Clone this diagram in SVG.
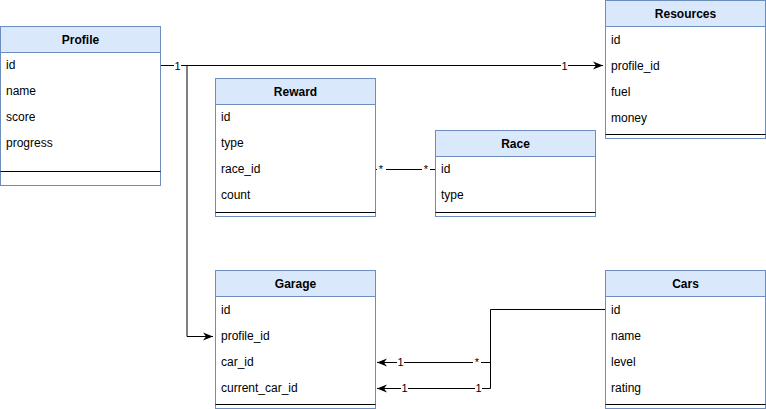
<svg xmlns="http://www.w3.org/2000/svg" width="766" height="409" viewBox="0 0 766 409">
<style>
.box{fill:#ffffff;stroke:#6c8ebf;stroke-width:1}
.hdr{fill:#dae8fc;stroke:#6c8ebf;stroke-width:1}
.sep{stroke:#000000;stroke-width:1}
.title{font-family:"Liberation Sans",Arial,sans-serif;font-size:12px;font-weight:bold;fill:#000;text-anchor:middle}
.row{font-family:"Liberation Sans",Arial,sans-serif;font-size:12px;fill:#000}
.edge{fill:none;stroke:#000;stroke-width:1}
.lbl{font-family:"Liberation Sans",Arial,sans-serif;font-size:11px;fill:#000;text-anchor:middle}
.lblbg{fill:#ffffff}
</style>
<defs>
<marker id="arr" viewBox="0 0 10 10" refX="10" refY="5" markerWidth="10" markerHeight="10" markerUnits="userSpaceOnUse" orient="auto">
<path d="M0,1 L10,5 L0,9 L3,5 Z" fill="#000"/>
</marker>
</defs>

<g id="connectors">
<path class="edge" d="M160,65.5 L603,65.5" marker-end="url(#arr)"/>
<path class="edge" d="M187,65.5 L187,336.5 L213,336.5" marker-end="url(#arr)"/>
<path d="M187,66 L187,336" fill="none" stroke="#808080" stroke-width="2"/>
<path class="edge" d="M375,169.5 L435,169.5"/>
<path class="edge" d="M605,309.5 L490.5,309.5 L490.5,388.5 L377,388.5" marker-end="url(#arr)"/>
<path class="edge" d="M490.5,362.5 L377,362.5" marker-end="url(#arr)"/>
<rect class="lblbg" x="174" y="60" width="7" height="11"/>
<text class="lbl" x="177.5" y="70">1</text>
<rect class="lblbg" x="561" y="60" width="7" height="11"/>
<text class="lbl" x="564.5" y="70">1</text>
<rect class="lblbg" x="377" y="164" width="9" height="11"/>
<text class="lbl" x="381" y="173">*</text>
<rect class="lblbg" x="422" y="164" width="8" height="11"/>
<text class="lbl" x="426" y="173">*</text>
<rect class="lblbg" x="397" y="357" width="7" height="11"/>
<text class="lbl" x="400.5" y="366">1</text>
<rect class="lblbg" x="473" y="357" width="8" height="11"/>
<text class="lbl" x="477" y="366">*</text>
<rect class="lblbg" x="401" y="383" width="7" height="11"/>
<text class="lbl" x="404.5" y="392">1</text>
<rect class="lblbg" x="475" y="383" width="7" height="11"/>
<text class="lbl" x="478.5" y="392">1</text>
</g>

<g id="profile">
<rect class="box" x="0.5" y="26.5" width="160" height="159"/>
<rect class="hdr" x="0.5" y="26.5" width="160" height="26"/>
<text class="title" x="80.5" y="43.5">Profile</text>
<text class="row" x="6" y="69">id</text>
<text class="row" x="6" y="95">name</text>
<text class="row" x="6" y="121">score</text>
<text class="row" x="6" y="147">progress</text>
<line class="sep" x1="0.5" y1="171.5" x2="160.5" y2="171.5"/>
</g>

<g id="resources">
<rect class="box" x="605.5" y="0.5" width="160" height="138"/>
<rect class="hdr" x="605.5" y="0.5" width="160" height="26"/>
<text class="title" x="685.5" y="17.5">Resources</text>
<text class="row" x="611" y="44">id</text>
<text class="row" x="611" y="70">profile_id</text>
<text class="row" x="611" y="96">fuel</text>
<text class="row" x="611" y="122">money</text>
<line class="sep" x1="605.5" y1="134.5" x2="765.5" y2="134.5"/>
</g>

<g id="reward">
<rect class="box" x="215.5" y="78.5" width="160" height="138"/>
<rect class="hdr" x="215.5" y="78.5" width="160" height="26"/>
<text class="title" x="295.5" y="95.5">Reward</text>
<text class="row" x="221" y="121">id</text>
<text class="row" x="221" y="147">type</text>
<text class="row" x="221" y="173">race_id</text>
<text class="row" x="221" y="199">count</text>
<line class="sep" x1="215.5" y1="212.5" x2="375.5" y2="212.5"/>
</g>

<g id="race">
<rect class="box" x="435.5" y="130.5" width="160" height="86"/>
<rect class="hdr" x="435.5" y="130.5" width="160" height="26"/>
<text class="title" x="515.5" y="147.5">Race</text>
<text class="row" x="441" y="173">id</text>
<text class="row" x="441" y="199">type</text>
<line class="sep" x1="435.5" y1="212.5" x2="595.5" y2="212.5"/>
</g>

<g id="garage">
<rect class="box" x="215.5" y="270.5" width="160" height="138"/>
<rect class="hdr" x="215.5" y="270.5" width="160" height="26"/>
<text class="title" x="295.5" y="287.5">Garage</text>
<text class="row" x="221" y="314">id</text>
<text class="row" x="221" y="340">profile_id</text>
<text class="row" x="221" y="366">car_id</text>
<text class="row" x="221" y="392">current_car_id</text>
<line class="sep" x1="215.5" y1="404.5" x2="375.5" y2="404.5"/>
</g>

<g id="cars">
<rect class="box" x="605.5" y="270.5" width="160" height="138"/>
<rect class="hdr" x="605.5" y="270.5" width="160" height="26"/>
<text class="title" x="685.5" y="287.5">Cars</text>
<text class="row" x="611" y="314">id</text>
<text class="row" x="611" y="340">name</text>
<text class="row" x="611" y="366">level</text>
<text class="row" x="611" y="392">rating</text>
<line class="sep" x1="605.5" y1="404.5" x2="765.5" y2="404.5"/>
</g>
</svg>
